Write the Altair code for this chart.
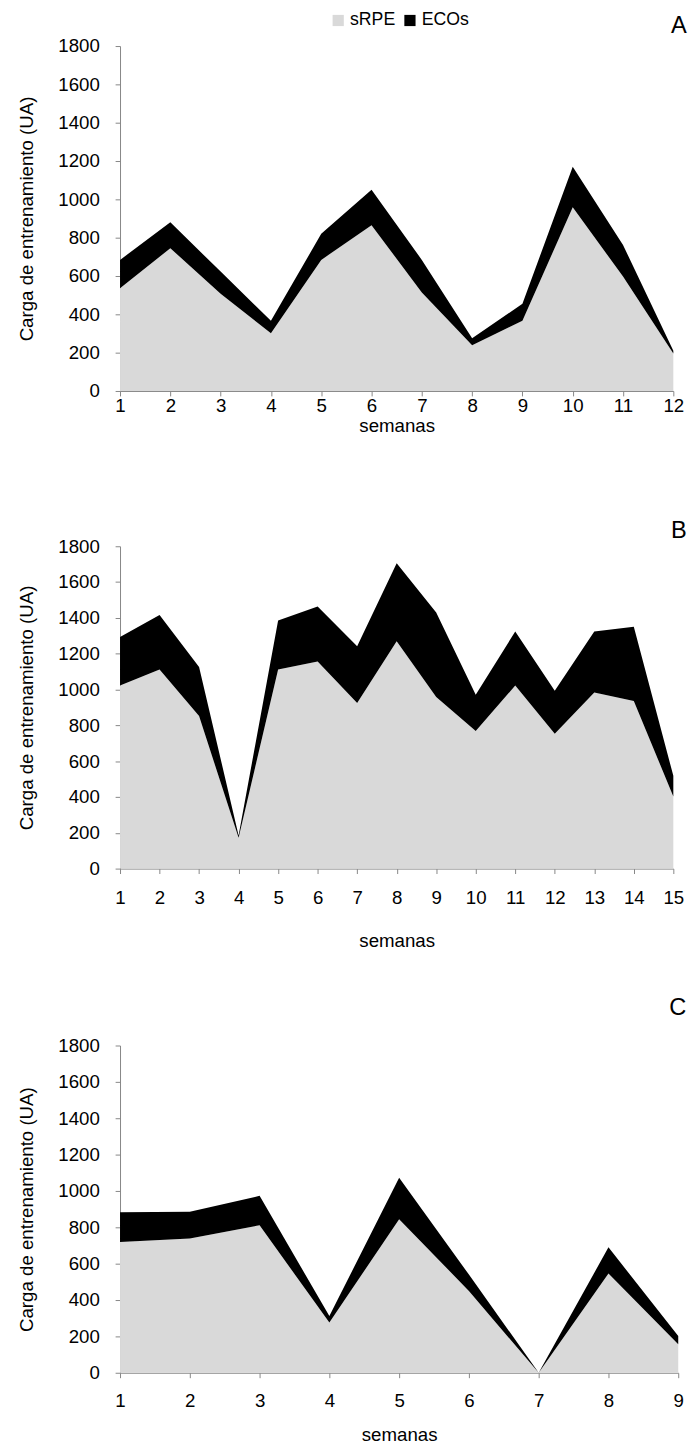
import altair as alt
import pandas as pd

FONT = "Liberation Sans"

# Panel A (12 semanas)
srpe_a = [536, 745, 507, 301, 684, 865, 514, 239, 366, 959, 597, 195]
ecos_a = [148, 135, 116, 65, 136, 185, 170, 36, 89, 211, 165, 15]

# Panel B (15 semanas)
srpe_b = [1022, 1112, 852, 172, 1112, 1157, 925, 1269, 958, 769, 1022, 753, 984, 936, 403]
ecos_b = [271, 304, 274, 13, 274, 306, 317, 436, 472, 202, 302, 240, 340, 414, 115]

# Panel C (9 semanas)
srpe_c = [719, 739, 811, 276, 845, 450, 0, 546, 157]
ecos_c = [164, 147, 162, 36, 227, 90, 0, 144, 45]

series = ["sRPE", "ECOs"]
colors = ["#d9d9d9", "#000000"]
y_ticks = list(range(0, 1801, 200))


def panel(letter, srpe, ecos, width, height, title_offset, x_label_pad, x_title_pad, show_legend):
    n = len(srpe)
    rows = []
    for i in range(n):
        rows.append({"semana": i + 1, "serie": "sRPE", "ord": 0, "valor": srpe[i]})
        rows.append({"semana": i + 1, "serie": "ECOs", "ord": 1, "valor": ecos[i]})
    df = pd.DataFrame(rows)
    if show_legend:
        legend = alt.Legend(
            title=None, orient="none", legendX=213, legendY=-35, direction="horizontal",
            symbolType="square", symbolSize=130, symbolStrokeWidth=0,
            labelFontSize=18, labelFont=FONT, labelColor="#000000",
            columnPadding=5, labelOffset=3, padding=0,
        )
    else:
        legend = None
    return alt.Chart(df).mark_area(interpolate="linear").encode(
        x=alt.X("semana:Q", scale=alt.Scale(domain=[1, n], nice=False, zero=False),
                axis=alt.Axis(values=list(range(1, n + 1)), format="d", title="semanas",
                              labelPadding=x_label_pad, titlePadding=x_title_pad,
                              labelFlush=False, labelOverlap=False)),
        y=alt.Y("valor:Q", stack="zero", scale=alt.Scale(domain=[0, 1800], nice=False),
                axis=alt.Axis(values=y_ticks, format="d", title="Carga de entrenamiento (UA)",
                              labelPadding=16, titlePadding=22)),
        color=alt.Color("serie:N", scale=alt.Scale(domain=series, range=colors), legend=legend),
        order=alt.Order("ord:Q", sort="ascending"),
    ).properties(
        width=width, height=height,
        title=alt.TitleParams(letter, anchor="end", fontSize=24, fontWeight="normal", font=FONT,
                              color="#000000", offset=title_offset, dx=3),
    )


pa = panel("A", srpe_a, ecos_a, 563, 351, -27, 1, 1, True)
pb = panel("B", srpe_b, ecos_b, 563, 328, -6, 16, 24, False)
pc = panel("C", srpe_c, ecos_c, 568, 333, 17, 14, 16, False)

top = alt.vconcat(pa, pb, spacing=86).resolve_scale(color="independent")
chart = alt.vconcat(top, pc, spacing=47).resolve_scale(color="independent").properties(
    padding={"left": 9, "top": -9, "right": 5, "bottom": 0}
).configure_axis(
    grid=False, domainColor="#868686", tickColor="#868686", tickSize=5,
    labelFont=FONT, labelFontSize=19, labelColor="#000000",
    titleFont=FONT, titleFontSize=19, titleFontWeight="normal", titleColor="#000000",
).configure_view(stroke=None)

chart.save("out.html", embed_options={"renderer": "svg", "actions": False})
